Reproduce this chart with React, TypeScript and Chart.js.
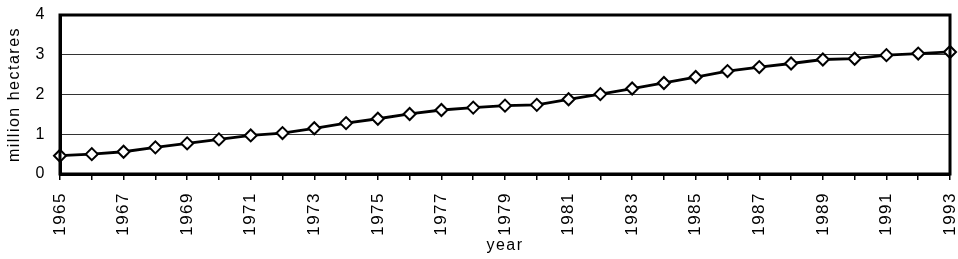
import React, { useEffect, useRef } from "react";
import { Chart, registerables } from "chart.js";

Chart.register(...registerables);

const years = [
  "1965", "1966", "1967", "1968", "1969", "1970", "1971", "1972", "1973", "1974",
  "1975", "1976", "1977", "1978", "1979", "1980", "1981", "1982", "1983", "1984",
  "1985", "1986", "1987", "1988", "1989", "1990", "1991", "1992", "1993",
];

const hectares = [
  0.46, 0.5, 0.56, 0.67, 0.77, 0.87, 0.97, 1.03, 1.15, 1.28,
  1.39, 1.51, 1.61, 1.67, 1.72, 1.74, 1.88, 2.01, 2.15, 2.29,
  2.44, 2.59, 2.69, 2.78, 2.88, 2.9, 2.99, 3.03, 3.07,
];

const yTicks = [0, 1, 2, 3, 4];

const FONT = "'Liberation Sans', Arial, Helvetica, sans-serif";

const spacingPlugin = {
  id: "spacing",
  beforeLayout(chart: any) {
    (chart.ctx as any).letterSpacing = "1.5px";
  },
  beforeDraw(chart: any) {
    (chart.ctx as any).letterSpacing = "1.5px";
  },
};

const framePlugin = {
  id: "frame",
  afterDatasetsDraw(chart: any) {
    const { ctx, chartArea } = chart;
    ctx.save();
    ctx.strokeStyle = "#000";
    ctx.lineWidth = 3;
    ctx.strokeRect(
      chartArea.left,
      chartArea.top,
      chartArea.right - chartArea.left,
      chartArea.bottom - chartArea.top
    );
    ctx.restore();
  },
};

export default function App() {
  const canvasRef = useRef<HTMLCanvasElement | null>(null);

  useEffect(() => {
    if (!canvasRef.current) return;
    const chart = new Chart(canvasRef.current, {
      type: "line",
      data: {
        labels: years,
        datasets: [
          {
            data: hectares,
            borderColor: "#000",
            borderWidth: 2.8,
            pointStyle: "rectRot",
            pointRadius: 6,
            pointBorderWidth: 2,
            pointBackgroundColor: "#fff",
            pointBorderColor: "#000",
            tension: 0,
            clip: false as any,
          },
        ],
      },
      options: {
        animation: false,
        responsive: false,
        devicePixelRatio: 1,
        layout: { padding: { left: 0, right: 8, top: 15, bottom: 0 } },
        plugins: {
          legend: { display: false },
          tooltip: { enabled: false },
        },
        scales: {
          x: {
            type: "category",
            offset: false,
            afterFit(scale: any) {
              scale.height = 85;
              scale.paddingLeft = 0;
              scale.paddingRight = 0;
            },
            grid: {
              drawOnChartArea: false,
              drawTicks: true,
              tickLength: 6,
              color: "#000",
              lineWidth: 1.5,
            },
            border: { display: true, color: "#000", width: 3 },
            ticks: {
              autoSkip: false,
              maxRotation: 90,
              minRotation: 90,
              padding: 12,
              color: "#000",
              font: { family: FONT, size: 17 },
              callback: (_v: any, i: number) => (i % 2 === 0 ? years[i] : ""),
            },
            title: {
              display: true,
              text: "year",
              color: "#000",
              font: { family: FONT, size: 16 },
              padding: { top: 0, bottom: 4 },
            },
          },
          y: {
            min: 0,
            max: 4,
            afterFit(scale: any) {
              scale.width = 60;
              scale.paddingTop = 0;
              scale.paddingBottom = 0;
            },
            afterBuildTicks(scale: any) {
              scale.ticks = yTicks.map((v) => ({ value: v }));
            },
            grid: {
              drawTicks: false,
              tickLength: 0,
              color: "#333",
              lineWidth: 1,
            },
            border: { display: true, color: "#000", width: 3 },
            ticks: {
              padding: 14,
              color: "#000",
              font: { family: FONT, size: 16 },
            },
            title: {
              display: true,
              text: "million hectares",
              color: "#000",
              font: { family: FONT, size: 16 },
              padding: { top: 5, bottom: 0 },
            },
          },
        },
      },
      plugins: [spacingPlugin, framePlugin],
    });
    return () => chart.destroy();
  }, []);

  return (
    <canvas
      ref={canvasRef}
      width={958}
      height={259}
      style={{ position: "fixed", left: 0, top: 0, width: 958, height: 259, display: "block", background: "#fff" }}
    />
  );
}
